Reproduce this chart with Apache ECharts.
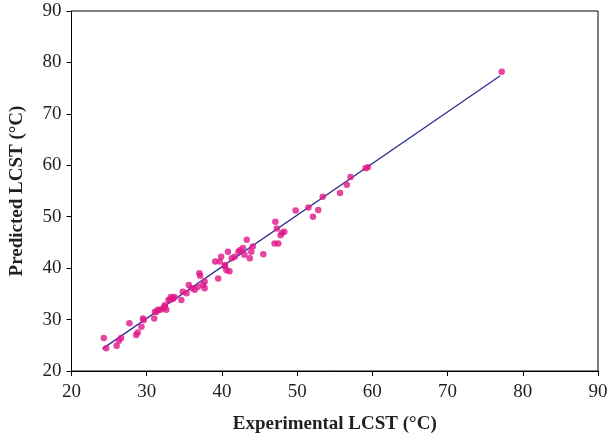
<!DOCTYPE html>
<html><head><meta charset="utf-8">
<script src="https://cdn.jsdelivr.net/npm/echarts@6/dist/echarts.min.js"></script>
<style>html,body{margin:0;padding:0;background:#fff}#c{width:608px;height:439px}</style>
</head><body><div id="c"></div>
<script>
const expX = [24.3,24.6,26.0,26.6,26.3,27.7,28.8,28.6,29.3,29.5,29.6,31.0,31.3,31.8,32.4,32.6,33.1,33.5,
  31.1,31.5,32.2,32.4,32.9,33.2,33.5,33.7,34.6,34.8,35.3,35.6,36.0,36.4,36.8,37.0,37.1,37.5,37.7,37.7,39.5,39.7,40.4,40.6,
  39.1,39.9,40.4,41.0,40.8,41.3,41.7,42.2,42.4,42.8,43.0,43.3,43.7,43.9,44.1,45.5,47.0,47.3,47.5,
  47.1,47.8,48.0,48.3,49.8,51.5,52.1,52.8,53.4,55.7,56.6,57.1,59.1,59.4,77.2];
const predY = [26.4,24.4,24.9,26.4,25.9,29.3,27.5,27.0,28.6,30.2,29.9,30.2,31.5,31.9,32.5,31.9,33.8,34.1,
  31.5,31.9,32.2,32.8,33.8,34.4,34.1,34.4,33.8,35.4,35.1,36.7,36.1,35.8,36.4,39.0,38.5,36.7,36.1,37.4,38.0,41.3,40.6,39.6,
  41.3,42.2,40.3,39.4,43.2,41.9,42.2,43.2,43.5,43.9,42.6,45.5,41.9,43.2,44.2,42.7,44.8,47.7,44.8,
  49.0,46.4,46.9,47.1,51.2,51.8,50.0,51.3,53.9,54.6,56.2,57.7,59.4,59.6,78.2];
const fitX = [24.1, 77.0];
const fitY = [24.3, 77.4];
const xTicks = [20,30,40,50,60,70,80,90];
const yTicks = [20,30,40,50,60,70,80,90];

const chart = echarts.init(document.getElementById('c'));
const font = '"Liberation Serif","Times New Roman",serif';
chart.setOption({
  animation:false,
  grid:{left:71.5,right:10,top:11,bottom:68,show:true,borderColor:'#000',borderWidth:1,
    containLabel:false,outerBoundsMode:'none'},
  xAxis:{type:'value',min:xTicks[0],max:xTicks[xTicks.length-1],interval:10,
    name:'Experimental LCST (°C)',nameLocation:'middle',nameGap:44,
    nameTextStyle:{fontFamily:font,fontSize:19,fontWeight:'bold',color:'#231f20'},
    axisLine:{lineStyle:{color:'#000',width:1}},
    axisTick:{show:true,inside:false,length:5,lineStyle:{color:'#000'}},
    axisLabel:{fontFamily:font,fontSize:19,color:'#231f20',margin:12},
    splitLine:{show:false}},
  yAxis:{type:'value',min:yTicks[0],max:yTicks[yTicks.length-1],interval:10,
    name:'Predicted LCST (°C)',nameLocation:'middle',nameGap:45,
    nameTextStyle:{fontFamily:font,fontSize:19,fontWeight:'bold',color:'#231f20'},
    axisLine:{lineStyle:{color:'#000',width:1}},
    axisTick:{show:true,inside:false,length:5,lineStyle:{color:'#000'}},
    axisLabel:{fontFamily:font,fontSize:19,color:'#231f20',margin:10},
    splitLine:{show:false}},
  series:[
    {type:'line',data:fitX.map((x,i)=>[x,fitY[i]]),symbol:'none',
     lineStyle:{color:'#2e3192',width:1.3},z:2},
    {type:'scatter',data:expX.map((x,i)=>[x,predY[i]]),symbolSize:6.5,
     itemStyle:{color:'#e0168a'},z:3}
  ]
});
</script></body></html>
